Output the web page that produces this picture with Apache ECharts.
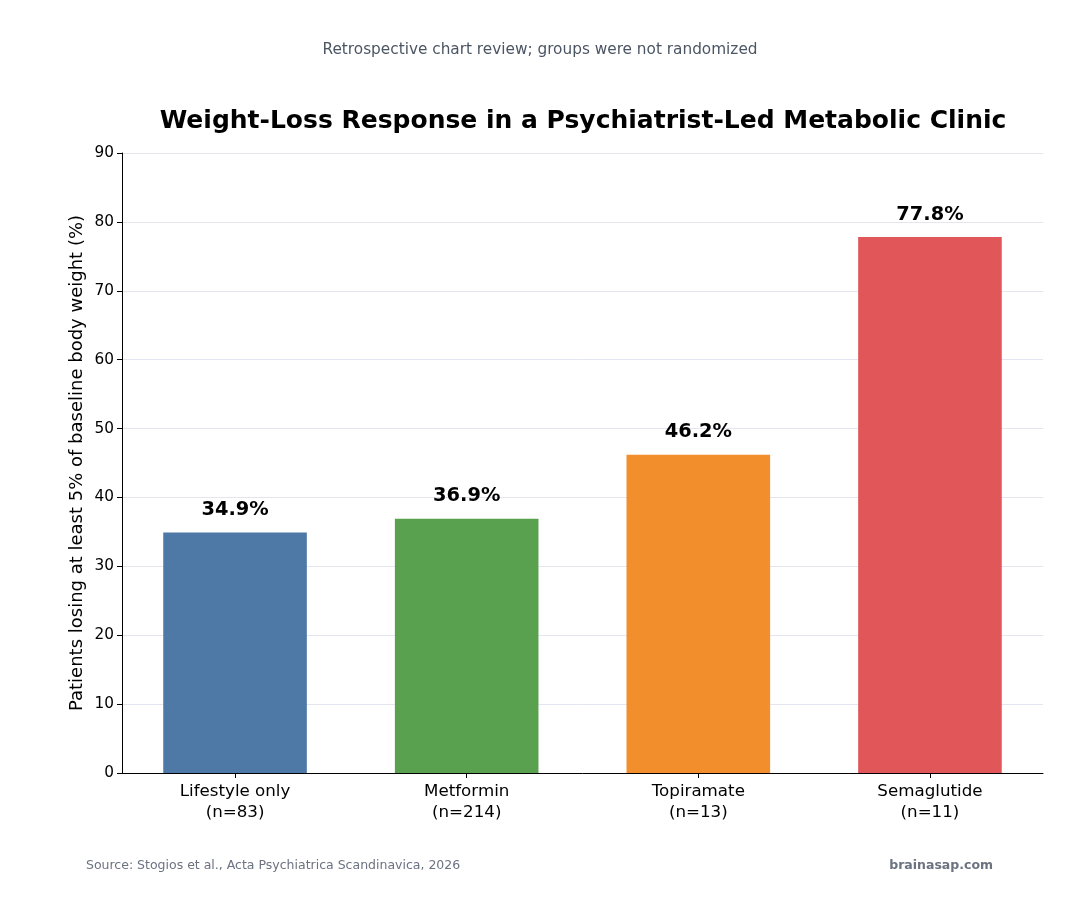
<!DOCTYPE html>
<html><head><meta charset="utf-8">
<script src="https://cdn.jsdelivr.net/npm/echarts@6/dist/echarts.min.js"></script>
<style>html,body{margin:0;padding:0;background:#fff}#c{width:1080px;height:900px}</style>
</head><body><div id="c"></div>
<script>
const categories = ['Lifestyle only\n(n=83)', 'Metformin\n(n=214)', 'Topiramate\n(n=13)', 'Semaglutide\n(n=11)'];
const values = [34.9, 36.9, 46.2, 77.8];
const colors = ['#4e79a7', '#59a14f', '#f28e2b', '#e15759'];
const yTicks = [0, 10, 20, 30, 40, 50, 60, 70, 80, 90];
const positions = categories.map((c, i) => i);
const F = 'DejaVu Sans';
const chart = echarts.init(document.getElementById('c'));
chart.setOption({
  backgroundColor: '#fff',
  animation: false,
  textStyle: { fontFamily: F },
  title: [
    { text: 'Retrospective chart review; groups were not randomized', left: 535, textAlign: 'center', top: 38,
      textStyle: { fontFamily: F, fontSize: 15.3, fontWeight: 'normal', color: '#4b5563' } },
    { text: 'Weight-Loss Response in a Psychiatrist-Led Metabolic Clinic', left: 578, textAlign: 'center', top: 104,
      textStyle: { fontFamily: F, fontSize: 25, fontWeight: 'bold', color: '#000' } },
    { text: 'Source: Stogios et al., Acta Psychiatrica Scandinavica, 2026', left: 81, top: 854,
      textStyle: { fontFamily: F, fontSize: 12.5, fontWeight: 'normal', color: '#6b7280' } },
    { text: 'brainasap.com', right: 82, top: 854,
      textStyle: { fontFamily: F, fontSize: 12.5, fontWeight: 'bold', color: '#6b7280' } }
  ],
  grid: { left: 122, right: 37, top: 153, bottom: 127 },
  xAxis: {
    type: 'value', min: -0.488, max: 3.488,
    splitLine: { show: false },
    axisLine: { show: true, onZero: false, lineStyle: { color: '#000', width: 1 } },
    axisTick: { show: true, length: 5, customValues: positions, lineStyle: { color: '#000' } },
    axisLabel: { customValues: positions, formatter: v => categories[Math.round(v)],
      fontFamily: F, fontSize: 16.7, color: '#000', lineHeight: 21, margin: 8 }
  },
  yAxis: {
    type: 'value', min: 0, max: 90, interval: 10,
    name: 'Patients losing at least 5% of baseline body weight (%)',
    nameLocation: 'middle', nameGap: 36, nameMoveOverlap: false,
    nameTextStyle: { fontFamily: F, fontSize: 18, color: '#000' },
    axisLine: { show: true, onZero: false, lineStyle: { color: '#000', width: 1 } },
    axisTick: { show: true, length: 5, lineStyle: { color: '#000' } },
    axisLabel: { fontFamily: F, fontSize: 15.3, color: '#000', margin: 8,
      formatter: v => yTicks.includes(v) ? String(v) : '' },
    splitLine: { show: true, lineStyle: { color: '#e3e5f1', width: 1 } }
  },
  series: [{
    type: 'bar',
    data: values.map((v, i) => ({ value: [positions[i], v], itemStyle: { color: colors[i] } })),
    barWidth: 143.6,
    label: { show: true, position: 'top', distance: 13, formatter: p => p.value[1].toFixed(1) + '%',
      fontFamily: F, fontSize: 19.4, fontWeight: 'bold', color: '#000' }
  }]
});
</script></body></html>
